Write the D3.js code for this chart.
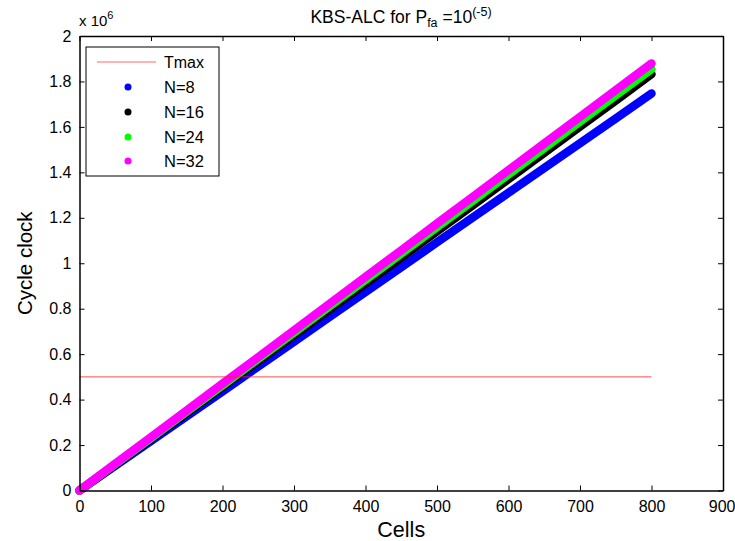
<!DOCTYPE html>
<html><head><meta charset="utf-8">
<script src="https://cdn.jsdelivr.net/npm/d3@7"></script>
<style>body{margin:0;background:#fff}svg{display:block}text{font-family:"Liberation Sans",Arial,sans-serif}</style>
</head><body><svg id="c" width="735" height="541"></svg>
<script>
// Data (cycle clock in units of 1e6)
const cells = [0,50,100,150,200,250,300,350,400,450,500,550,600,650,700,750,800];
const n8  = [0,0.109,0.218,0.327,0.436,0.546,0.655,0.764,0.873,0.982,1.092,1.201,1.310,1.419,1.528,1.637,1.747];
const n16 = [0,0.113,0.227,0.341,0.455,0.569,0.683,0.797,0.911,1.025,1.140,1.255,1.370,1.486,1.601,1.716,1.832];
const n24 = [0,0.116,0.231,0.347,0.463,0.579,0.695,0.811,0.927,1.043,1.159,1.275,1.391,1.507,1.623,1.739,1.854];
const n32 = [0,0.118,0.235,0.352,0.470,0.587,0.705,0.822,0.940,1.057,1.175,1.292,1.410,1.527,1.644,1.762,1.879];
const tmax = 0.5;
const tmaxRange = [0,800];
const seriesNames = ["N=8","N=16","N=24","N=32"];
const seriesColors = ["#0000ff","#000000","#00ff00","#ff00ff"];
const xTicks = [0,100,200,300,400,500,600,700,800,900];
const yTicks = [0,0.2,0.4,0.6,0.8,1,1.2,1.4,1.6,1.8,2];

const svg = d3.select("#c");
const L=79.5, R=723, T=36, B=490.5;
const x = d3.scaleLinear().domain([0,900]).range([L,R]);
const y = d3.scaleLinear().domain([0,2]).range([B,T]);

// series
const allSeries = [n8,n16,n24,n32];
const line = d3.line().x(d=>x(d[0])).y(d=>y(d[1]));
allSeries.forEach((vals,i)=>{
  const pts = cells.map((c,j)=>[c,vals[j]]);
  svg.append("path").attr("d",line(pts)).attr("fill","none")
    .attr("stroke",seriesColors[i]).attr("stroke-width",8.5)
    .attr("stroke-linecap","round").attr("stroke-linejoin","round");
});
// Tmax
svg.append("line").attr("x1",x(tmaxRange[0])).attr("x2",x(tmaxRange[1]))
  .attr("y1",y(tmax)).attr("y2",y(tmax)).attr("stroke","#ff2020").attr("stroke-width",0.8);

// axes
const fmt = d=>String(d);
const gx = svg.append("g").attr("transform",`translate(0,${B})`).call(d3.axisBottom(x).tickValues(xTicks).tickSizeInner(-5).tickSizeOuter(0).tickPadding(10).tickFormat(fmt));
const gxt = svg.append("g").attr("transform",`translate(0,${T})`).call(d3.axisTop(x).tickValues(xTicks).tickSizeInner(-5).tickSizeOuter(0).tickFormat(""));
const gy = svg.append("g").attr("transform",`translate(${L},0)`).call(d3.axisLeft(y).tickValues(yTicks).tickSizeInner(-5).tickSizeOuter(0).tickPadding(8).tickFormat(fmt));
const gyr = svg.append("g").attr("transform",`translate(${R},0)`).call(d3.axisRight(y).tickValues(yTicks).tickSizeInner(-5).tickSizeOuter(0).tickFormat(""));
[gx,gxt,gy,gyr].forEach(g=>{
  g.selectAll("path").attr("stroke","#000").attr("stroke-width",1.5);
  g.selectAll("line").attr("stroke","#000").attr("stroke-width",1);
  g.selectAll("text").attr("font-size",16).attr("fill","#000").attr("font-family","Liberation Sans, Arial, sans-serif");
});
gx.selectAll("text").attr("dy","0.71em");
// keep last label inside the canvas
gx.selectAll(".tick text").filter(d=>d===900).attr("text-anchor","end").attr("x",12);

// labels
svg.append("text").attr("x",(L+R)/2).attr("y",537).attr("text-anchor","middle").attr("font-size",21.5).text("Cells");
svg.append("text").attr("transform",`translate(32,${(T+B)/2}) rotate(-90)`).attr("text-anchor","middle").attr("font-size",20.5).text("Cycle clock");
const ex = svg.append("text").attr("x",79).attr("y",26).attr("font-size",15);
ex.append("tspan").text("x 10");
ex.append("tspan").attr("font-size",11).attr("dy",-7).text("6");

const title = svg.append("text").attr("x",401).attr("y",23).attr("text-anchor","middle").attr("font-size",17.5);
title.append("tspan").text("KBS-ALC for P");
title.append("tspan").attr("font-size",12.5).attr("dy",4).text("fa");
title.append("tspan").attr("dy",-4).text(" =10");
title.append("tspan").attr("font-size",12.5).attr("dy",-7).text("(-5)");

// legend
const lg = svg.append("g");
lg.append("rect").attr("x",86).attr("y",47).attr("width",133).attr("height",129).attr("fill","#fff").attr("stroke","#000").attr("stroke-width",1);
const rowY = [62,87,112,137,161];
lg.append("line").attr("x1",97).attr("x2",156).attr("y1",rowY[0]).attr("y2",rowY[0]).attr("stroke","#ff4040").attr("stroke-width",0.8);
lg.append("text").attr("x",164).attr("y",rowY[0]).attr("dy","0.35em").attr("font-size",16).text("Tmax");
seriesNames.forEach((n,i)=>{
  lg.append("circle").attr("cx",128).attr("cy",rowY[i+1]).attr("r",3.5).attr("fill",seriesColors[i]);
  lg.append("text").attr("x",164).attr("y",rowY[i+1]).attr("dy","0.35em").attr("font-size",16.5).text(n);
});
</script></body></html>
